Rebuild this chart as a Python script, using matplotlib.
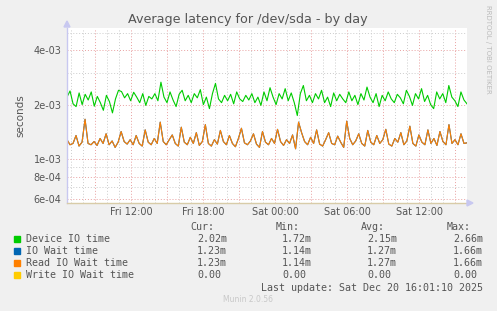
import matplotlib
matplotlib.use("Agg")
import matplotlib.pyplot as plt
import matplotlib.dates as mdates
from matplotlib.ticker import FixedLocator, NullFormatter
import numpy as np
from datetime import datetime, timedelta

# data, in milliseconds, one sample every 15 minutes from Fri 06:40 to Sat 16:00
device_io = [2.20, 2.38, 2.02, 1.95, 2.32, 2.00, 2.28, 2.12, 2.35, 1.96, 2.22, 2.05, 1.86, 2.25,
             2.08, 1.80, 2.15, 2.40, 2.36, 2.18, 2.30, 2.10, 2.34, 2.20, 2.05, 2.30, 1.98, 2.22,
             2.15, 2.30, 2.10, 2.66, 2.20, 2.05, 2.35, 2.12, 1.95, 2.28, 2.40, 2.10, 2.25, 2.05,
             2.30, 2.18, 2.42, 2.00, 2.20, 1.90, 2.30, 2.62, 2.15, 2.05, 2.25, 2.10, 2.28, 2.02,
             2.35, 2.15, 2.08, 2.25, 2.12, 2.30, 2.05, 2.20, 1.98, 2.35, 2.10, 2.48, 2.20, 2.00,
             2.30, 2.15, 2.45, 2.10, 2.32, 2.05, 1.74, 2.30, 2.55, 2.10, 2.25, 2.05, 2.30, 2.15,
             2.40, 2.05, 2.20, 1.95, 2.32, 2.10, 2.28, 2.15, 2.05, 2.35, 2.10, 2.25, 2.00, 2.30,
             2.12, 2.50, 2.20, 2.05, 2.30, 1.95, 2.25, 2.10, 2.35, 2.15, 2.05, 2.28, 2.18, 2.02,
             2.40, 2.22, 1.98, 2.30, 2.15, 2.45, 2.08, 2.25, 2.00, 1.90, 2.35, 2.15, 2.30, 2.05,
             2.55, 2.20, 2.10, 1.95, 2.35, 2.12, 2.02]
read_wait = [1.28, 1.20, 1.22, 1.35, 1.18, 1.24, 1.66, 1.22, 1.20, 1.25, 1.19, 1.30, 1.22, 1.38,
             1.20, 1.26, 1.16, 1.24, 1.42, 1.25, 1.21, 1.28, 1.20, 1.35, 1.22, 1.18, 1.45, 1.24,
             1.20, 1.30, 1.22, 1.60, 1.25, 1.20, 1.28, 1.36, 1.22, 1.18, 1.50, 1.24, 1.20, 1.32,
             1.22, 1.40, 1.19, 1.25, 1.55, 1.22, 1.18, 1.28, 1.21, 1.44, 1.25, 1.20, 1.35, 1.22,
             1.17, 1.30, 1.48, 1.23, 1.20, 1.26, 1.38, 1.21, 1.16, 1.42, 1.24, 1.20, 1.30, 1.22,
             1.46, 1.25, 1.19, 1.28, 1.22, 1.36, 1.14, 1.60, 1.40, 1.25, 1.20, 1.32, 1.22, 1.45,
             1.21, 1.18, 1.28, 1.40, 1.22, 1.20, 1.34, 1.24, 1.16, 1.62, 1.30, 1.20, 1.26, 1.38,
             1.22, 1.18, 1.44, 1.24, 1.20, 1.35, 1.22, 1.28, 1.46, 1.21, 1.18, 1.30, 1.24, 1.40,
             1.20, 1.26, 1.52, 1.22, 1.18, 1.36, 1.24, 1.20, 1.45, 1.22, 1.30, 1.19, 1.42, 1.25,
             1.20, 1.55, 1.22, 1.28, 1.20, 1.38, 1.22, 1.23]
io_wait = list(read_wait)

legend_names = ["Device IO time", "IO Wait time", "Read IO Wait time", "Write IO Wait time"]
legend_colors = ["#00CC00", "#0066B3", "#FF8000", "#FFCC00"]
stat_cur = ["2.02m", "1.23m", "1.23m", "0.00"]
stat_min = ["1.72m", "1.14m", "1.14m", "0.00"]
stat_avg = ["2.15m", "1.27m", "1.27m", "0.00"]
stat_max = ["2.66m", "1.66m", "1.66m", "0.00"]

start = datetime(2025, 12, 19, 6, 40)
end = datetime(2025, 12, 20, 16, 0)


def times_for(vals):
    span = (end - start).total_seconds()
    return [start + timedelta(seconds=span * i / (len(vals) - 1)) for i in range(len(vals))]


W, H = 497, 311
fig = plt.figure(figsize=(W / 100, H / 100), dpi=100, facecolor="#F0F0F0")
ax = fig.add_axes([67 / W, 1 - 203 / H, 400 / W, 175 / H])
ax.set_facecolor("white")

ax.plot(times_for(io_wait), np.array(io_wait) / 1000, color=legend_colors[1], lw=0.8)
ax.plot(times_for(read_wait), np.array(read_wait) / 1000, color=legend_colors[2], lw=0.8)
ax.plot(times_for(device_io), np.array(device_io) / 1000, color=legend_colors[0], lw=0.8)

ax.set_yscale("log")
ax.set_ylim(5.72e-4, 5.3e-3)
ax.set_xlim(start, end)

major_y = [6e-4, 8e-4, 1e-3, 2e-3, 4e-3]
minor_y = [7e-4, 9e-4, 3e-3, 5e-3]
ax.yaxis.set_major_locator(FixedLocator(major_y))
ax.yaxis.set_minor_locator(FixedLocator(minor_y))
ax.yaxis.set_minor_formatter(NullFormatter())
ax.set_yticklabels(["6e-04", "8e-04", "1e-03", "2e-03", "4e-03"])

# vertical grid: red every 3h, grey every hour, labels every 6h
for h in range(0, 34):
    t = datetime(2025, 12, 19, 7) + timedelta(hours=h)
    if t > end:
        break
    red = t.hour % 3 == 0
    ax.axvline(t, color="#E8A0A0" if red else "#CCCCCC", lw=0.7, ls=(0, (1, 2)), zorder=0)
for y in major_y:
    ax.axhline(y, color="#E8A0A0", lw=0.7, ls=(0, (1, 2)), zorder=0)
for y in minor_y:
    ax.axhline(y, color="#CCCCCC", lw=0.7, ls=(0, (1, 2)), zorder=0)

ax.xaxis.set_major_locator(mdates.HourLocator(byhour=[0, 6, 12, 18]))
ax.xaxis.set_major_formatter(mdates.DateFormatter("%a %H:%M"))
ax.tick_params(axis="both", which="both", length=0, labelsize=7, colors="#555555", pad=4)
ax.tick_params(axis="x", pad=3)

for s in ["top", "right"]:
    ax.spines[s].set_visible(False)
ax.spines["left"].set_color("#C8C8F0")
ax.spines["bottom"].set_color("#D8CCA8")
ax.spines["left"].set_linewidth(1)
ax.spines["bottom"].set_linewidth(1)

# small arrows at axis ends
fig.patches.append(plt.Polygon([[64 / W, 1 - 27 / H], [70 / W, 1 - 27 / H], [67 / W, 1 - 21 / H]],
                               closed=True, transform=fig.transFigure, color="#C8C8F0"))
fig.patches.append(plt.Polygon([[467 / W, 1 - 200 / H], [467 / W, 1 - 206 / H], [473 / W, 1 - 203 / H]],
                               closed=True, transform=fig.transFigure, color="#C8C8F0"))

ax.set_ylabel("seconds", fontsize=7.5, color="#555555", labelpad=6)

fig.text(248 / W, 1 - 19 / H, "Average latency for /dev/sda - by day", ha="center", va="center",
         fontsize=9.2, color="#555555")
fig.text(488 / W, 1 - 5 / H, "RRDTOOL / TOBI OETIKER", rotation=270, ha="center", va="top",
         fontsize=5, color="#BBBBBB")

mono = "DejaVu Sans Mono"
fs = 7.2
tc = "#555555"
col_x = [197, 282, 367, 453]
head_x = [190, 276, 361, 447]
for x, h in zip(head_x, ["Cur:", "Min:", "Avg:", "Max:"]):
    fig.text(x / W, 1 - 227 / H, h, family=mono, fontsize=fs, color=tc, va="center")
row_y = [239, 251, 263, 275]
for i in range(4):
    y = 1 - row_y[i] / H
    fig.patches.append(plt.Rectangle((14 / W, y - 3 / H), 6 / W, 6 / H, transform=fig.transFigure,
                                     color=legend_colors[i]))
    fig.text(26 / W, y, legend_names[i], family=mono, fontsize=fs, color=tc, va="center")
    for x, v in zip(col_x, [stat_cur[i], stat_min[i], stat_avg[i], stat_max[i]]):
        fig.text(x / W, y, v, family=mono, fontsize=fs, color=tc, va="center")
fig.text(483 / W, 1 - 288 / H, "Last update: Sat Dec 20 16:01:10 2025", family=mono, fontsize=fs,
         color=tc, va="center", ha="right")
fig.text(248 / W, 1 - 300 / H, "Munin 2.0.56", fontsize=5.5, color="#C8C8C8", ha="center", va="center")

fig.savefig("out.png", dpi=100, facecolor=fig.get_facecolor())
